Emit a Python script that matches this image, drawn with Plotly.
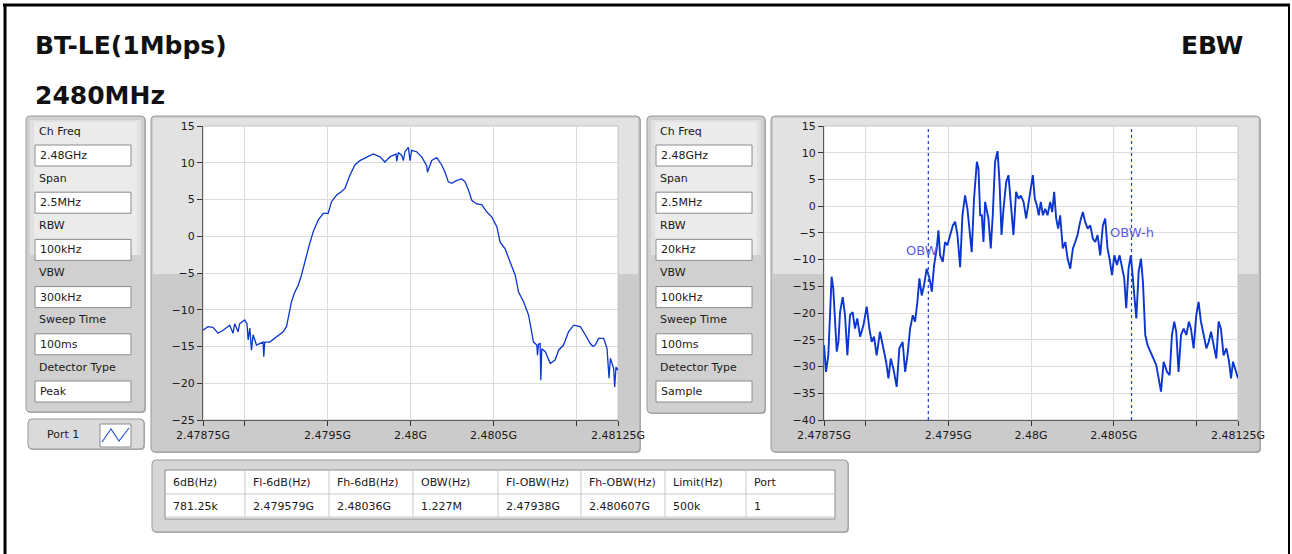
import plotly.graph_objects as go

W, H = 1292, 554

# ---------------- text content ----------------
title_left = "BT-LE(1Mbps)"
title_freq = "2480MHz"
title_right = "EBW"

setting_labels = ["Ch Freq", "Span", "RBW", "VBW", "Sweep Time", "Detector Type"]
peak_settings = ["2.48GHz", "2.5MHz", "100kHz", "300kHz", "100ms", "Peak"]
sample_settings = ["2.48GHz", "2.5MHz", "20kHz", "100kHz", "100ms", "Sample"]
port_label = "Port 1"

table_headers = ["6dB(Hz)", "Fl-6dB(Hz)", "Fh-6dB(Hz)", "OBW(Hz)", "Fl-OBW(Hz)", "Fh-OBW(Hz)", "Limit(Hz)", "Port"]
table_values = ["781.25k", "2.479579G", "2.48036G", "1.227M", "2.47938G", "2.480607G", "500k", "1"]

# OBW marker frequencies (MHz), same as table
obw_low_mhz = 2479.380
obw_high_mhz = 2480.607

# ---------------- axes ----------------
x_tick_vals = [2478.75, 2479.0, 2479.5, 2480.0, 2480.5, 2481.0, 2481.25]
x_tick_text = ["2.47875G", "", "2.4795G", "2.48G", "2.4805G", "", "2.48125G"]
y1_ticks = [-25, -20, -15, -10, -5, 0, 5, 10, 15]
y2_ticks = [-40, -35, -30, -25, -20, -15, -10, -5, 0, 5, 10, 15]

# ---------------- trace 1: peak detector (MHz, dBm) ----------------
peak_freq_mhz = [
    2478.750, 2478.780, 2478.810, 2478.841, 2478.871, 2478.911, 2478.931, 2478.941, 2478.961, 2478.971,
    2479.001, 2479.015, 2479.022, 2479.032, 2479.042, 2479.052, 2479.072, 2479.092, 2479.112, 2479.116,
    2479.122, 2479.152, 2479.192, 2479.233, 2479.253, 2479.269, 2479.283, 2479.303, 2479.323, 2479.343,
    2479.363, 2479.390, 2479.414, 2479.444, 2479.474, 2479.504, 2479.524, 2479.555, 2479.585, 2479.605,
    2479.635, 2479.665, 2479.695, 2479.736, 2479.776, 2479.816, 2479.846, 2479.876, 2479.913, 2479.917,
    2479.927, 2479.947, 2479.957, 2479.967, 2479.987, 2479.997, 2480.007, 2480.037, 2480.067, 2480.098,
    2480.102, 2480.128, 2480.158, 2480.188, 2480.208, 2480.228, 2480.248, 2480.279, 2480.309, 2480.329,
    2480.349, 2480.369, 2480.399, 2480.429, 2480.460, 2480.490, 2480.520, 2480.540, 2480.570, 2480.600,
    2480.631, 2480.651, 2480.681, 2480.711, 2480.741, 2480.761, 2480.765, 2480.771, 2480.781, 2480.785,
    2480.791, 2480.812, 2480.842, 2480.872, 2480.892, 2480.922, 2480.952, 2480.983, 2481.023, 2481.053,
    2481.083, 2481.099, 2481.113, 2481.133, 2481.164, 2481.184, 2481.196, 2481.204, 2481.224, 2481.230,
    2481.238, 2481.250,
]
peak_level_dbm = [
    -12.8, -12.3, -12.4, -13.2, -12.8, -12.1, -13.2, -11.9, -13.0, -11.9,
    -11.4, -11.9, -14.1, -12.5, -15.5, -13.4, -14.8, -14.6, -14.4, -16.4,
    -14.4, -14.4, -13.7, -13.0, -12.3, -10.3, -8.9, -7.6, -6.7, -5.3,
    -3.5, -1.2, 0.6, 2.2, 3.1, 3.1, 4.7, 5.6, 6.1, 6.5,
    8.3, 9.7, 10.3, 10.8, 11.2, 10.8, 10.1, 10.8, 11.2, 10.2,
    11.4, 11.0, 10.3, 11.5, 12.1, 10.3, 11.7, 11.5, 10.8, 9.6,
    8.7, 10.3, 10.7, 9.7, 8.7, 7.4, 7.2, 7.6, 7.8, 7.4,
    6.3, 4.9, 4.4, 4.3, 3.3, 2.6, 1.3, -0.8, -1.7, -3.5,
    -5.3, -7.6, -8.9, -10.7, -14.4, -14.8, -16.2, -14.7, -14.6, -19.6,
    -15.3, -15.7, -17.3, -16.8, -15.5, -14.8, -13.0, -12.1, -12.3, -13.4,
    -14.6, -15.0, -14.8, -13.9, -13.9, -15.3, -19.3, -16.6, -18.0, -20.5,
    -17.8, -18.2,
]

# ---------------- trace 2: sample detector (MHz, dBm) ----------------
sample_freq_mhz = [
    2478.750, 2478.762, 2478.776, 2478.786, 2478.796, 2478.806, 2478.817, 2478.827, 2478.837, 2478.847,
    2478.863, 2478.877, 2478.891, 2478.907, 2478.923, 2478.937, 2478.951, 2478.968, 2478.988, 2479.008,
    2479.024, 2479.038, 2479.052, 2479.068, 2479.088, 2479.109, 2479.125, 2479.139, 2479.153, 2479.169,
    2479.189, 2479.205, 2479.225, 2479.240, 2479.254, 2479.270, 2479.286, 2479.300, 2479.314, 2479.326,
    2479.340, 2479.354, 2479.370, 2479.387, 2479.401, 2479.415, 2479.431, 2479.441, 2479.451, 2479.467,
    2479.481, 2479.495, 2479.511, 2479.528, 2479.542, 2479.556, 2479.572, 2479.586, 2479.602, 2479.616,
    2479.628, 2479.642, 2479.656, 2479.673, 2479.683, 2479.693, 2479.703, 2479.713, 2479.723, 2479.733,
    2479.743, 2479.757, 2479.769, 2479.783, 2479.798, 2479.810, 2479.822, 2479.834, 2479.850, 2479.864,
    2479.878, 2479.894, 2479.910, 2479.925, 2479.939, 2479.955, 2479.971, 2479.985, 2479.999, 2480.011,
    2480.023, 2480.035, 2480.047, 2480.059, 2480.072, 2480.086, 2480.100, 2480.116, 2480.128, 2480.140,
    2480.152, 2480.164, 2480.176, 2480.192, 2480.207, 2480.221, 2480.237, 2480.253, 2480.267, 2480.281,
    2480.297, 2480.313, 2480.327, 2480.342, 2480.358, 2480.374, 2480.388, 2480.402, 2480.418, 2480.434,
    2480.448, 2480.462, 2480.474, 2480.489, 2480.503, 2480.519, 2480.535, 2480.549, 2480.563, 2480.575,
    2480.589, 2480.603, 2480.619, 2480.636, 2480.650, 2480.664, 2480.676, 2480.690, 2480.704, 2480.720,
    2480.736, 2480.756, 2480.771, 2480.785, 2480.801, 2480.821, 2480.837, 2480.851, 2480.865, 2480.877,
    2480.891, 2480.906, 2480.922, 2480.938, 2480.954, 2480.966, 2480.982, 2480.998, 2481.012, 2481.026,
    2481.043, 2481.059, 2481.073, 2481.087, 2481.103, 2481.119, 2481.133, 2481.147, 2481.163, 2481.180,
    2481.196, 2481.208, 2481.220, 2481.234, 2481.250,
]
sample_level_dbm = [
    -26.0, -31.0, -27.9, -20.4, -13.2, -15.4, -21.6, -27.2, -25.4, -19.8,
    -17.0, -20.4, -27.9, -20.4, -19.8, -22.9, -21.0, -24.4, -22.3, -18.8,
    -22.9, -25.4, -24.4, -27.9, -23.5, -26.6, -29.1, -32.2, -28.5, -30.4,
    -33.8, -26.6, -25.4, -31.0, -27.9, -22.9, -20.4, -21.6, -17.9, -13.5,
    -16.7, -14.8, -11.7, -13.5, -16.0, -11.0, -7.9, -4.5, -9.2, -10.4,
    -6.7, -7.3, -5.4, -3.6, -2.9, -5.4, -11.4, -1.7, 2.0, -0.5,
    -4.2, -8.6, 1.4, 8.3, 7.0, -1.7, -1.7, -6.7, 0.8, -0.5,
    -2.3, -7.9, -1.7, 8.3, 10.3, 4.5, -5.4, -0.5, 4.5, 5.8,
    0.8, -5.4, 2.7, 1.4, 2.0, 0.8, -2.3, 0.8, 3.3, 5.8,
    1.4, 0.2, -1.7, 0.8, -1.7, -0.5, -1.7, 0.8, -1.1, 2.7,
    -2.3, -4.2, -1.7, -7.9, -6.7, -9.8, -11.7, -7.9, -6.7, -5.4,
    -2.9, -1.1, -2.9, -4.2, -3.6, -6.1, -6.7, -5.4, -9.2, -3.6,
    -2.3, -7.9, -9.8, -12.9, -9.2, -11.0, -9.2, -11.7, -13.5, -19.1,
    -11.7, -9.2, -14.8, -21.0, -12.3, -9.8, -14.2, -24.1, -26.0, -27.2,
    -28.5, -29.7, -32.2, -34.7, -29.1, -31.0, -31.6, -24.1, -21.6, -23.5,
    -31.0, -24.1, -22.9, -24.1, -21.6, -22.9, -26.6, -20.4, -17.9, -21.6,
    -24.1, -26.6, -25.4, -23.5, -26.0, -28.5, -21.6, -22.9, -27.9, -26.6,
    -29.1, -32.2, -29.1, -30.4, -32.2,
]

# ---------------- styling ----------------
FONT = "DejaVu Sans"
TRACE_COLOR = "#0b36d0"
TXT = "#1a1a1a"


def X(px):
    return px / W


def Y(py):
    return 1 - py / H


def rrect(x0, y0, x1, y1, r, fill, line="rgba(0,0,0,0)", lw=1, layer="below"):
    p = (f"M {X(x0 + r)},{Y(y0)} L {X(x1 - r)},{Y(y0)} Q {X(x1)},{Y(y0)} {X(x1)},{Y(y0 + r)} "
         f"L {X(x1)},{Y(y1 - r)} Q {X(x1)},{Y(y1)} {X(x1 - r)},{Y(y1)} "
         f"L {X(x0 + r)},{Y(y1)} Q {X(x0)},{Y(y1)} {X(x0)},{Y(y1 - r)} "
         f"L {X(x0)},{Y(y0 + r)} Q {X(x0)},{Y(y0)} {X(x0 + r)},{Y(y0)} Z")
    return dict(type="path", xref="paper", yref="paper", path=p, fillcolor=fill,
                line=dict(color=line, width=lw), layer=layer)


def rect(x0, y0, x1, y1, fill, line="rgba(0,0,0,0)", lw=1, layer="below"):
    return dict(type="rect", xref="paper", yref="paper", x0=X(x0), x1=X(x1), y0=Y(y1), y1=Y(y0),
                fillcolor=fill, line=dict(color=line, width=lw), layer=layer)


def seg(x0, y0, x1, y1, color, lw=1, layer="below", dash="solid"):
    return dict(type="line", xref="paper", yref="paper", x0=X(x0), x1=X(x1), y0=Y(y0), y1=Y(y1),
                line=dict(color=color, width=lw, dash=dash), layer=layer)


def text(px, py, s, size=11, anchor="left", color=TXT, bold=False, family=FONT):
    return dict(xref="paper", yref="paper", x=X(px), y=Y(py), text=(f"<b>{s}</b>" if bold else s),
                showarrow=False, xanchor=anchor, yanchor="middle",
                font=dict(family=family, size=size, color=color))


shapes = []
annotations = []

# outer black frame (top, left, right)
shapes.append(seg(3, 5, 1290, 5, "#000000", 3, layer="above"))
shapes.append(seg(5, 4, 5, 554, "#000000", 3, layer="above"))
shapes.append(seg(1289, 4, 1289, 554, "#000000", 2, layer="above"))

# titles
annotations.append(text(33, 45, title_left, size=25, bold=True, color="#111111"))
annotations.append(text(33, 95, title_freq, size=25, bold=True, color="#111111"))
annotations.append(text(1245, 45, title_right, size=25, bold=True, color="#111111", anchor="right"))


def settings_panel(x0, x1, y0, y1, values):
    shapes.append(rrect(x0 + 1, y0 + 1, x1 + 1, y1 + 1, 4, "#b4b4b4"))
    shapes.append(rrect(x0, y0, x1, y1, 4, "#d0d0d0", "#9a9a9a", 1))
    shapes.append(rect(x0 + 4, y0 + 4, x1 - 4, 255, "#e0e0e0"))
    shapes.append(rect(x0 + 8, y0 + 6, x1 - 8, 255, "#ebebeb"))
    bx0, bx1 = x0 + 9, x0 + 105
    for i, (lab, val) in enumerate(zip(setting_labels, values)):
        ly = 131 + i * 47.2
        by = 145 + i * 47.2
        annotations.append(text(x0 + 11, ly, lab, size=11))
        shapes.append(rect(bx0, by, bx1, by + 21, "#ffffff", "#8c8c8c", 1))
        annotations.append(text(bx0 + 3, by + 10.5, val, size=11))


settings_panel(26, 145, 116, 412, peak_settings)
settings_panel(647, 765, 116, 413, sample_settings)

# port button
shapes.append(rrect(29, 420, 145, 450, 4, "#b4b4b4"))
shapes.append(rrect(28, 419, 144, 449, 4, "#dadada", "#9a9a9a", 1))
annotations.append(text(63, 435, port_label, size=11, anchor="center"))
shapes.append(rect(100, 424, 131, 447, "#ffffff", "#8c8c8c", 1))
shapes.append(dict(type="path", xref="paper", yref="paper",
                   path=f"M {X(102)},{Y(442)} L {X(111)},{Y(429)} L {X(119)},{Y(441)} L {X(129)},{Y(428)}",
                   line=dict(color="#2a55d8", width=1.2), layer="below"))


def chart_panel(x0, x1, y0, y1, px0, px1):
    shapes.append(rrect(x0 + 1, y0 + 1, x1 + 1, y1 + 1, 4, "#b4b4b4"))
    shapes.append(rrect(x0, y0, x1, y1, 4, "#cbcbcb", "#9a9a9a", 1))
    shapes.append(rect(x0 + 2, y0 + 2, x1 - 2, 274, "#e2e2e2"))
    # plot area
    shapes.append(rect(px0, 126, px1, 420, "#ffffff", "#c4c4c4", 1))


chart_panel(151, 640, 116, 452, 203, 618)
chart_panel(771, 1260, 116, 452, 824, 1238)

# table panel
shapes.append(rrect(153, 461, 849, 533, 4, "#b4b4b4"))
shapes.append(rrect(152, 460, 848, 532, 4, "#d6d6d6", "#9a9a9a", 1))
shapes.append(rect(165, 470, 835, 519, "#ffffff", "#8c8c8c", 1))
col_edges = [165, 245, 329, 413, 498, 581, 665, 746, 835]
for cx in col_edges[1:-1]:
    shapes.append(seg(cx, 470, cx, 519, "#c8c8c8", 1))
shapes.append(seg(165, 494, 835, 494, "#c8c8c8", 1))
shapes.append(seg(165, 517, 835, 517, "#c8c8c8", 1))
for i, (hd, val) in enumerate(zip(table_headers, table_values)):
    annotations.append(text(col_edges[i] + 6, 482, hd, size=11))
    annotations.append(text(col_edges[i] + 6, 506, val, size=11))

# OBW markers on the right chart
for f in (obw_low_mhz, obw_high_mhz):
    shapes.append(dict(type="line", xref="x2", yref="y2 domain", x0=f, x1=f, y0=0, y1=1,
                       line=dict(color="#1f3fd0", width=1.2, dash="dot"), layer="above"))
annotations.append(dict(xref="x2", yref="y2", x=obw_low_mhz, y=-8.3, text="OBW", showarrow=False,
                        xanchor="center", yanchor="middle", xshift=-6,
                        font=dict(family=FONT, size=13, color="#5a5ae6")))
annotations.append(dict(xref="x2", yref="y2", x=obw_high_mhz, y=-5.0, text="OBW-h", showarrow=False,
                        xanchor="center", yanchor="middle",
                        font=dict(family=FONT, size=13, color="#5a5ae6")))

fig = go.Figure()
fig.add_trace(go.Scatter(x=peak_freq_mhz, y=peak_level_dbm, mode="lines", xaxis="x", yaxis="y",
                         line=dict(color=TRACE_COLOR, width=1.3), showlegend=False, hoverinfo="skip"))
fig.add_trace(go.Scatter(x=sample_freq_mhz, y=sample_level_dbm, mode="lines", xaxis="x2", yaxis="y2",
                         line=dict(color=TRACE_COLOR, width=1.9), showlegend=False, hoverinfo="skip"))

ydom = [Y(420), Y(126)]
common_x = dict(range=[2478.75, 2481.25], tickvals=x_tick_vals, ticktext=x_tick_text, automargin=False,
                showgrid=True, gridcolor="#dcdcdc", gridwidth=1, zeroline=False,
                showline=True, linecolor="#5a5a5a", linewidth=1, ticks="outside", ticklen=5,
                tickcolor="#333333", tickfont=dict(family=FONT, size=11, color=TXT), fixedrange=True)
common_y = dict(showgrid=True, gridcolor="#dcdcdc", gridwidth=1, zeroline=False, automargin=False,
                showline=True, linecolor="#5a5a5a", linewidth=1, ticks="outside", ticklen=5,
                tickcolor="#333333", tickfont=dict(family=FONT, size=11, color=TXT), fixedrange=True)

fig.update_layout(
    template="none",
    width=W, height=H, autosize=False,
    margin=dict(l=0, r=0, t=0, b=0, pad=0),
    paper_bgcolor="#ffffff", plot_bgcolor="rgba(0,0,0,0)",
    xaxis=dict(domain=[X(203), X(618)], anchor="y", **common_x),
    yaxis=dict(domain=ydom, anchor="x", range=[-25, 15], tickvals=y1_ticks, **common_y),
    xaxis2=dict(domain=[X(824), X(1238)], anchor="y2", **common_x),
    yaxis2=dict(domain=ydom, anchor="x2", range=[-40, 15], tickvals=y2_ticks, **common_y),
    shapes=shapes, annotations=annotations,
    font=dict(family=FONT, size=11, color=TXT),
    showlegend=False,
)

fig.write_html("out.html", post_script="document.body.style.margin='0';", config={"displayModeBar": False})
